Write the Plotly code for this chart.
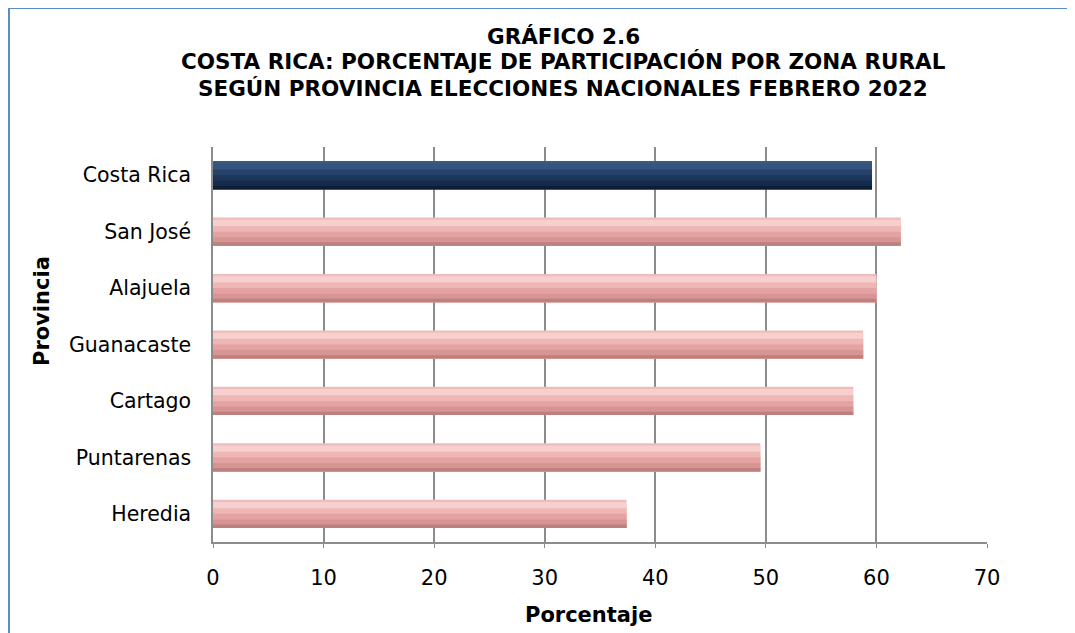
import plotly.graph_objects as go

# Datos
provincias = ["Costa Rica", "San José", "Alajuela", "Guanacaste", "Cartago", "Puntarenas", "Heredia"]
porcentaje = [59.6, 62.2, 60.0, 58.8, 57.9, 49.5, 37.4]
x_ticks = [0, 10, 20, 30, 40, 50, 60, 70]

FONT = "DejaVu Sans"

# bandas de color de arriba hacia abajo (simulan el relieve 3D de Excel)
bandas = [0.0, 0.08, 0.3, 0.5, 0.7, 0.88, 1.0]
azul = ["#3c5984", "#365480", "#26426a", "#1c355a", "#142b4a", "#0d1d35"]
rosa = ["#efbcbb", "#f6d0cf", "#eeb6b5", "#e4a3a2", "#d69493", "#bb807f"]

ANCHO = 0.5  # grosor de la barra en unidades de categoría

fig = go.Figure()

# cada banda llega hasta el fondo de la barra y la siguiente la tapa,
# así no quedan rendijas entre bandas
for i in range(len(bandas) - 1):
    colores = [azul[i] if p == "Costa Rica" else rosa[i] for p in provincias]
    fig.add_trace(go.Bar(
        x=porcentaje, y=provincias, orientation="h",
        width=(1.0 - bandas[i]) * ANCHO,
        offset=-ANCHO / 2 + bandas[i] * ANCHO,
        marker=dict(color=colores, line=dict(width=0)),
        hoverinfo="x+y" if i == 0 else "skip", showlegend=False,
    ))

fig.update_layout(
    width=1067, height=625,
    barmode="overlay",
    paper_bgcolor="white", plot_bgcolor="white",
    margin=dict(l=205, r=88, t=139, b=91),
    font=dict(family=FONT, size=20, color="black"),
    xaxis=dict(
        range=[0, 70], tickvals=x_ticks, ticktext=[str(v) for v in x_ticks],
        showgrid=True, gridcolor="#8c8c8c", gridwidth=1.5,
        showline=True, linecolor="#8c8c8c", linewidth=1.5,
        ticks="outside", ticklen=4, tickcolor="#8c8c8c",
        ticklabelstandoff=12,
        tickfont=dict(size=21), zeroline=False, fixedrange=True,
    ),
    yaxis=dict(
        autorange="reversed", showline=True, linecolor="#8c8c8c", linewidth=1.5,
        ticks="", ticklabelstandoff=16, tickfont=dict(size=20.5),
        showgrid=False, fixedrange=True,
    ),
    shapes=[
        # marco azul (solo se ven el borde superior y el izquierdo)
        dict(type="line", xref="paper", yref="paper",
             x0=(8 - 213) / 774, x1=(1090 - 213) / 774,
             y0=(542 - 8) / 395, y1=(542 - 8) / 395,
             line=dict(color="#5b8cc8", width=2)),
        dict(type="line", xref="paper", yref="paper",
             x0=(9 - 213) / 774, x1=(9 - 213) / 774,
             y0=(542 - 8) / 395, y1=(542 - 650) / 395,
             line=dict(color="#5b8cc8", width=2)),
    ],
)

titulo = [
    ("GRÁFICO 2.6", 36),
    ("COSTA RICA: PORCENTAJE DE PARTICIPACIÓN POR ZONA RURAL", 62),
    ("SEGÚN PROVINCIA ELECCIONES NACIONALES FEBRERO 2022", 88),
]
for texto, y_px in titulo:
    fig.add_annotation(
        text="<b>" + texto + "</b>", xref="paper", yref="paper",
        x=(563 - 213) / 774, y=(542 - y_px) / 395,
        xanchor="center", yanchor="middle", showarrow=False,
        font=dict(size=21.5, family=FONT),
    )

fig.add_annotation(
    text="<b>Porcentaje</b>", xref="paper", yref="paper",
    x=(588 - 213) / 774, y=(542 - 615) / 395, xanchor="center", yanchor="middle",
    showarrow=False, font=dict(size=21, family=FONT),
)
fig.add_annotation(
    text="<b>Provincia</b>", xref="paper", yref="paper", textangle=-90,
    x=(42 - 213) / 774, y=(542 - 311) / 395, xanchor="center", yanchor="middle",
    showarrow=False, font=dict(size=21, family=FONT),
)

fig.write_html("out.html")
